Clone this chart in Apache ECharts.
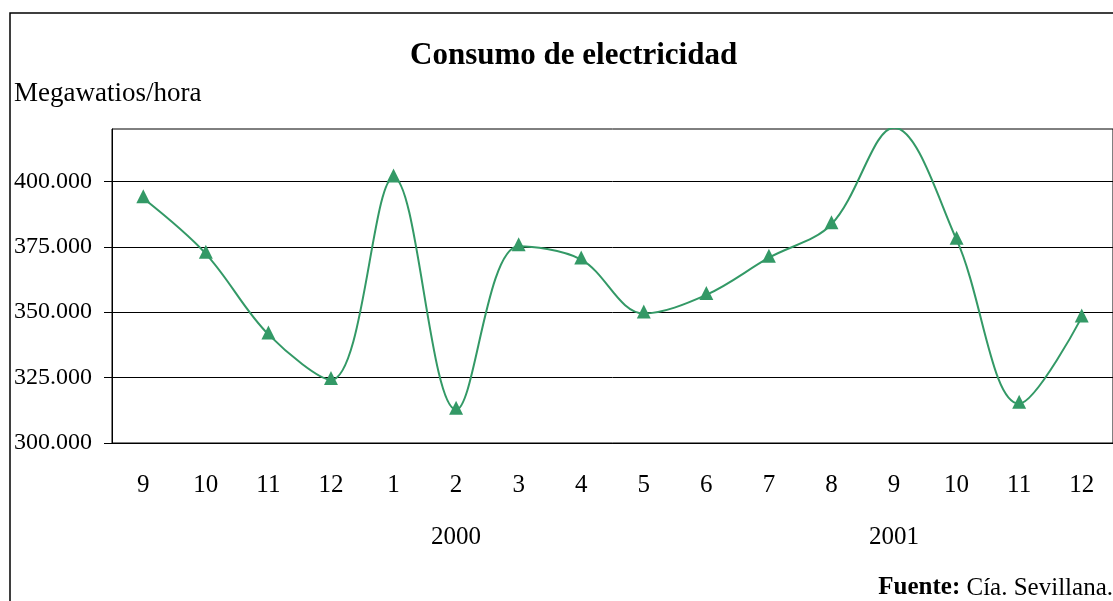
<!DOCTYPE html>
<html>
<head>
<meta charset="utf-8">
<script src="https://cdn.jsdelivr.net/npm/echarts@6/dist/echarts.min.js"></script>
<style>
html,body{margin:0;padding:0;background:#fff;}
#chart{width:1113px;height:601px;}
</style>
</head>
<body>
<div id="chart"></div>
<script>
var months = ['9','10','11','12','1','2','3','4','5','6','7','8','9','10','11','12'];
var years = ['','','','','','2000','','','','','','','2001','','',''];
var consumo = [393500, 372300, 341500, 324100, 401500, 312700, 375200, 370100, 349500, 356600, 370800, 383600, 420500, 377700, 315000, 348000];
var yTicks = [300000, 325000, 350000, 375000, 400000];
var titleText = 'Consumo de electricidad';
var unitText = 'Megawatios/hora';
var sourceLabel = 'Fuente:';
var sourceText = ' Cía. Sevillana.';

var FONT = '"Liberation Serif", "Times New Roman", serif';
var GREEN = '#339966';

function fmt(v) {
  var th = Math.floor(v / 1000);
  var r = String(v % 1000);
  while (r.length < 3) r = '0' + r;
  return th + '.' + r;
}

var chart = echarts.init(document.getElementById('chart'), null, {renderer: 'canvas'});
chart.setOption({
  animation: false,
  backgroundColor: '#fff',
  title: {
    text: titleText,
    left: 405,
    top: 35,
    textStyle: {fontFamily: FONT, fontSize: 31, fontWeight: 'bold', color: '#000'}
  },
  grid: {
    left: 112, top: 129, width: 1003, height: 314,
    show: true, borderColor: '#000', borderWidth: 1, containLabel: false
  },
  xAxis: [{
    type: 'category',
    data: months,
    boundaryGap: true,
    position: 'bottom',
    axisLine: {show: true, lineStyle: {color: '#000', width: 1}},
    axisTick: {show: false},
    axisLabel: {interval: 0, margin: 30, fontFamily: FONT, fontSize: 25, color: '#000'},
    splitLine: {show: false}
  }, {
    type: 'category',
    data: years,
    boundaryGap: true,
    position: 'bottom',
    offset: 0,
    axisLine: {show: false},
    axisTick: {show: false},
    axisLabel: {interval: 0, margin: 82, fontFamily: FONT, fontSize: 25, color: '#000'},
    splitLine: {show: false}
  }],
  yAxis: {
    type: 'value',
    min: 300000,
    max: 420000,
    interval: 25000,
    axisLine: {show: true, lineStyle: {color: '#000', width: 1}},
    axisTick: {show: true, length: 8, inside: false, customValues: yTicks, lineStyle: {color: '#000'}},
    axisLabel: {
      customValues: yTicks,
      margin: 20,
      fontFamily: FONT, fontSize: 24, color: '#000',
      formatter: function (v) { return yTicks.indexOf(v) >= 0 ? fmt(v) : ''; }
    },
    splitLine: {show: true, lineStyle: {color: '#000', width: 1}}
  },
  series: [{
    type: 'line',
    data: consumo,
    smooth: 0.35,
    clip: true,
    symbol: 'triangle',
    symbolSize: [14, 14],
    symbolOffset: [0, -2],
    lineStyle: {color: GREEN, width: 2},
    itemStyle: {color: GREEN},
    z: 5
  }],
  graphic: [{
    type: 'rect',
    shape: {x: 10, y: 13, width: 1300, height: 800},
    style: {fill: 'none', stroke: '#000', lineWidth: 1.5},
    silent: true, z: 0
  }, {
    type: 'text',
    x: 14, y: 94,
    style: {text: unitText, font: '27px ' + FONT, fill: '#000', textVerticalAlign: 'middle', textAlign: 'left'}
  }, {
    type: 'text',
    x: 1113, y: 588,
    style: {
      text: '{b|' + sourceLabel + '}{r|' + sourceText + '}',
      textAlign: 'right', textVerticalAlign: 'middle',
      rich: {
        b: {fontFamily: FONT, fontSize: 25, fontWeight: 'bold', fill: '#000'},
        r: {fontFamily: FONT, fontSize: 25, fill: '#000'}
      }
    }
  }]
});
</script>
</body>
</html>
